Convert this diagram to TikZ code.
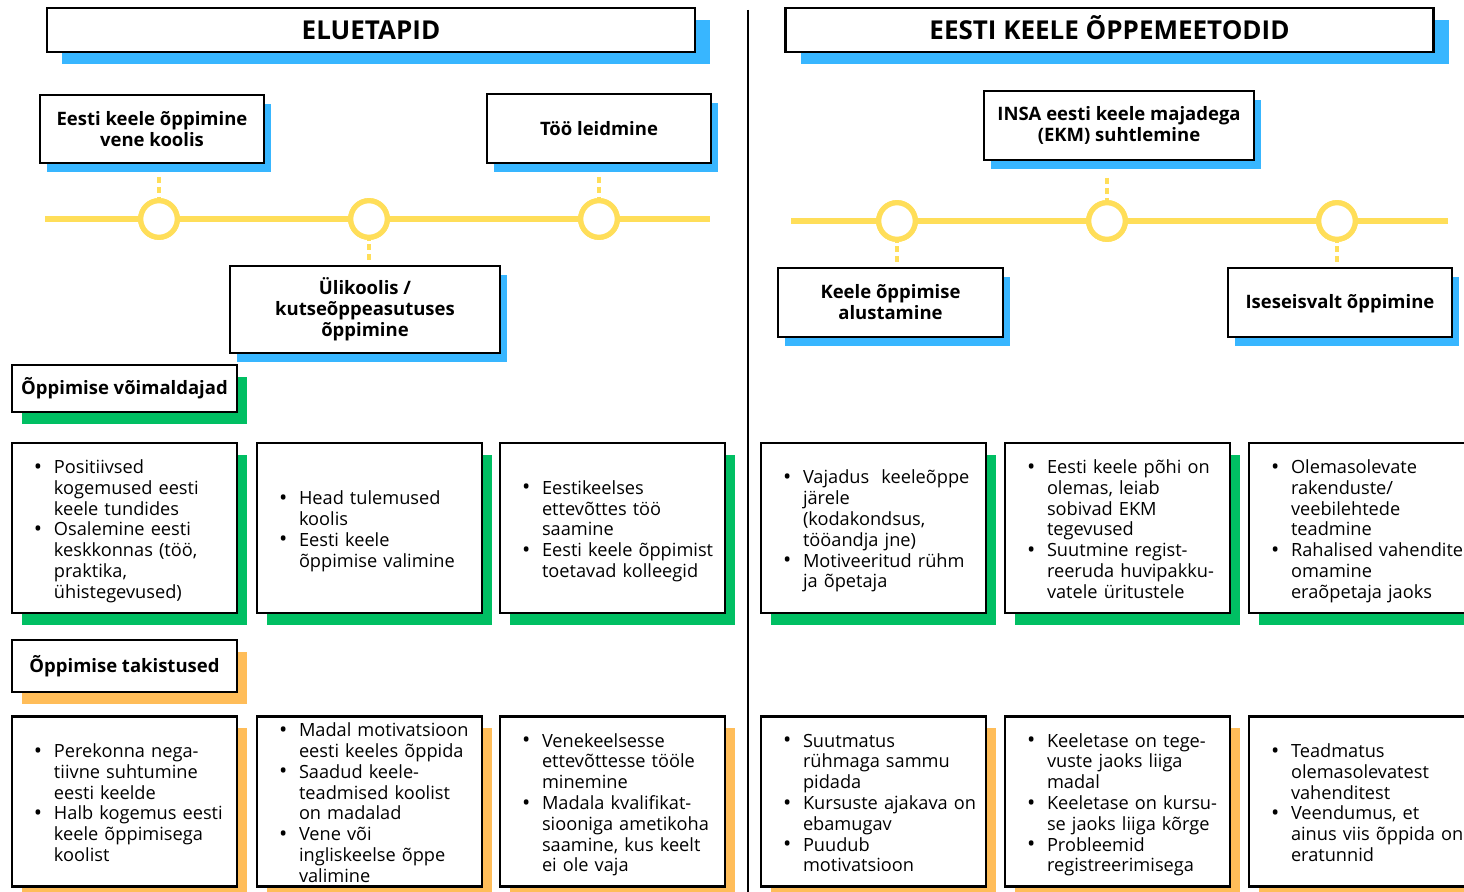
\documentclass[tikz,border=0pt]{standalone}
\usepackage{fontspec}
\setmainfont{Open Sans}
\usetikzlibrary{shadows}

\definecolor{skyblue}{HTML}{38B6FF}
\definecolor{leafgreen}{HTML}{00BF63}
\definecolor{sunorange}{HTML}{FFBD59}
\definecolor{lineyellow}{HTML}{FFDE59}

\newcommand\bul{\raisebox{-0.3pt}{\fontsize{11}{10}\selectfont\textbullet}}
\newcommand\blist[1]{\raisebox{-1.9pt}[\height][\depth]{\begin{tabular}{@{\hspace{1pt}}p{10pt}@{}l@{}}#1\end{tabular}}}

\tikzset{
  card/.style={draw=black, line width=1.3pt, fill=white, inner sep=0pt, align=center,
    font=\bfseries\fontsize{9.25}{10.5}\selectfont},
  titlecard/.style={card, minimum width=324pt, minimum height=22pt, text height=9.5pt, text depth=0pt,
    font=\bfseries\fontsize{13}{16}\selectfont,
    drop shadow={shadow xshift=7.5pt, shadow yshift=-6pt, fill=skyblue, opacity=1}},
  stagecard/.style={card, drop shadow={shadow xshift=3.5pt, shadow yshift=-4.5pt, fill=skyblue, opacity=1}},
  catcard/.style={card, minimum width=112.5pt, drop shadow={shadow xshift=5pt, shadow yshift=-6pt, fill=#1, opacity=1}},
  listcard/.style={card, minimum width=112.5pt, minimum height=85pt, inner xsep=10pt, text width=92.5pt,
    align=left, font=\fontsize{9.1}{10.4}\selectfont,
    drop shadow={shadow xshift=5pt, shadow yshift=-6pt, fill=#1, opacity=1}},
  tline/.style={draw=lineyellow, line width=2.7pt},
  tdash/.style={draw=lineyellow, line width=2.3pt, dash pattern=on 3pt off 2pt},
  ring/.style={circle, draw=lineyellow, line width=2.6pt, fill=white, minimum size=18.3pt, inner sep=0pt}
}

\begin{document}
\begin{tikzpicture}[x=0.5pt, y=-0.5pt]
\useasboundingbox (0,0) rectangle (1464,892);

\draw[line width=1pt] (748,10) -- (748,892);

\node[titlecard] (elu) at (371,30) {ELUETAPID};
\node[titlecard] (meet) at (1109.5,30) {EESTI KEELE ÕPPEMEETODID};

% eluetapid
\coordinate (la) at (45,219);
\coordinate (lb) at (710,219);
\draw[tline] (la) -- (lb);
\coordinate (d1) at (159,177);
\coordinate (d2) at (369,260);
\coordinate (d3) at (599,177);
\node[ring] (c1) at (159,219) {};
\node[ring] (c2) at (369,219) {};
\node[ring] (c3) at (599,219) {};
\draw[tdash] (d1) -- (c1);
\draw[tdash] (d2) -- (c2);
\draw[tdash] (d3) -- (c3);
\node[ring] at (c1) {};
\node[ring] at (c2) {};
\node[ring] at (c3) {};
\node[stagecard, minimum width=112pt, minimum height=34pt] (s1) at (152,129) {Eesti keele õppimine\\vene koolis};
\node[stagecard, minimum width=135pt, minimum height=43.5pt] (s2) at (365,309.5) {Ülikoolis /\\kutseõppeasutuses\\õppimine};
\node[stagecard, minimum width=112pt, minimum height=34.5pt] (s3) at (599,128.5) {Töö leidmine};

% oppemeetodid
\coordinate (ra) at (791,221);
\coordinate (rb) at (1448,221);
\draw[tline] (ra) -- (rb);
\coordinate (d4) at (897,262);
\coordinate (d5) at (1107,178);
\coordinate (d6) at (1337,262);
\node[ring] (c4) at (897,221) {};
\node[ring] (c5) at (1107,221) {};
\node[ring] (c6) at (1337,221) {};
\draw[tdash] (d4) -- (c4);
\draw[tdash] (d5) -- (c5);
\draw[tdash] (d6) -- (c6);
\node[ring] at (c4) {};
\node[ring] at (c5) {};
\node[ring] at (c6) {};
\node[stagecard, minimum width=112.5pt, minimum height=34.5pt] (s4) at (890.5,302.5) {Keele õppimise\\alustamine};
\node[stagecard, minimum width=135pt, minimum height=34.5pt] (s5) at (1119,125.5) {INSA eesti keele majadega\\(EKM) suhtlemine};
\node[stagecard, minimum width=112pt, minimum height=34.5pt, text depth=1pt] (s6) at (1340,302.5) {Iseseisvalt õppimine};

% voimaldajad
\node[catcard=leafgreen, minimum height=23.5pt] (vo) at (124.5,388.5) {Õppimise võimaldajad};
\node[listcard=leafgreen] (g1) at (124.5,528) {\blist{%
\bul & Positiivsed\\ & kogemused eesti\\ & keele tundides\\
\bul & Osalemine eesti\\ & keskkonnas (töö,\\ & praktika,\\ & ühistegevused)}};
\node[listcard=leafgreen] (g2) at (369.5,528) {\blist{%
\bul & Head tulemused\\ & koolis\\
\bul & Eesti keele\\ & õppimise valimine}};
\node[listcard=leafgreen] (g3) at (612.5,528) {\blist{%
\bul & Eestikeelses\\ & ettevõttes töö\\ & saamine\\
\bul & Eesti keele õppimist\\ & toetavad kolleegid}};
\node[listcard=leafgreen] (g4) at (873.5,528) {\blist{%
\bul & Vajadus\ \ keeleõppe\\ & järele\\ & (kodakondsus,\\ & tööandja jne)\\
\bul & Motiveeritud rühm\\ & ja õpetaja}};
\node[listcard=leafgreen] (g5) at (1117.5,528) {\blist{%
\bul & Eesti keele põhi on\\ & olemas, leiab\\ & sobivad EKM\\ & tegevused\\
\bul & Suutmine regist-\\ & reeruda huvipakku-\\ & vatele üritustele}};
\node[listcard=leafgreen] (g6) at (1361.5,528) {\blist{%
\bul & Olemasolevate\\ & rakenduste/\\ & veebilehtede\\ & teadmine\\
\bul & Rahalised vahendite\\ & omamine\\ & eraõpetaja jaoks}};

% takistused
\node[catcard=sunorange, minimum height=26pt] (ta) at (124.5,666) {Õppimise takistused};
\node[listcard=sunorange] (o1) at (124.5,801.5) {\blist{%
\bul & Perekonna nega-\\ & tiivne suhtumine\\ & eesti keelde\\
\bul & Halb kogemus eesti\\ & keele õppimisega\\ & koolist}};
\node[listcard=sunorange] (o2) at (369.5,801.5) {\blist{%
\bul & Madal motivatsioon\\ & eesti keeles õppida\\
\bul & Saadud keele-\\ & teadmised koolist\\ & on madalad\\
\bul & Vene või\\ & ingliskeelse õppe\\ & valimine}};
\node[listcard=sunorange] (o3) at (612.5,801.5) {\blist{%
\bul & Venekeelsesse\\ & ettevõttesse tööle\\ & minemine\\
\bul & Madala kvalifikat-\\ & siooniga ametikoha\\ & saamine, kus keelt\\ & ei ole vaja}};
\node[listcard=sunorange] (o4) at (873.5,801.5) {\blist{%
\bul & Suutmatus\\ & rühmaga sammu\\ & pidada\\
\bul & Kursuste ajakava on\\ & ebamugav\\
\bul & Puudub\\ & motivatsioon}};
\node[listcard=sunorange] (o5) at (1117.5,801.5) {\blist{%
\bul & Keeletase on tege-\\ & vuste jaoks liiga\\ & madal\\
\bul & Keeletase on kursu-\\ & se jaoks liiga kõrge\\
\bul & Probleemid\\ & registreerimisega}};
\node[listcard=sunorange] (o6) at (1361.5,801.5) {\blist{%
\bul & Teadmatus\\ & olemasolevatest\\ & vahenditest\\
\bul & Veendumus, et\\ & ainus viis õppida on\\ & eratunnid}};
\end{tikzpicture}
\end{document}
